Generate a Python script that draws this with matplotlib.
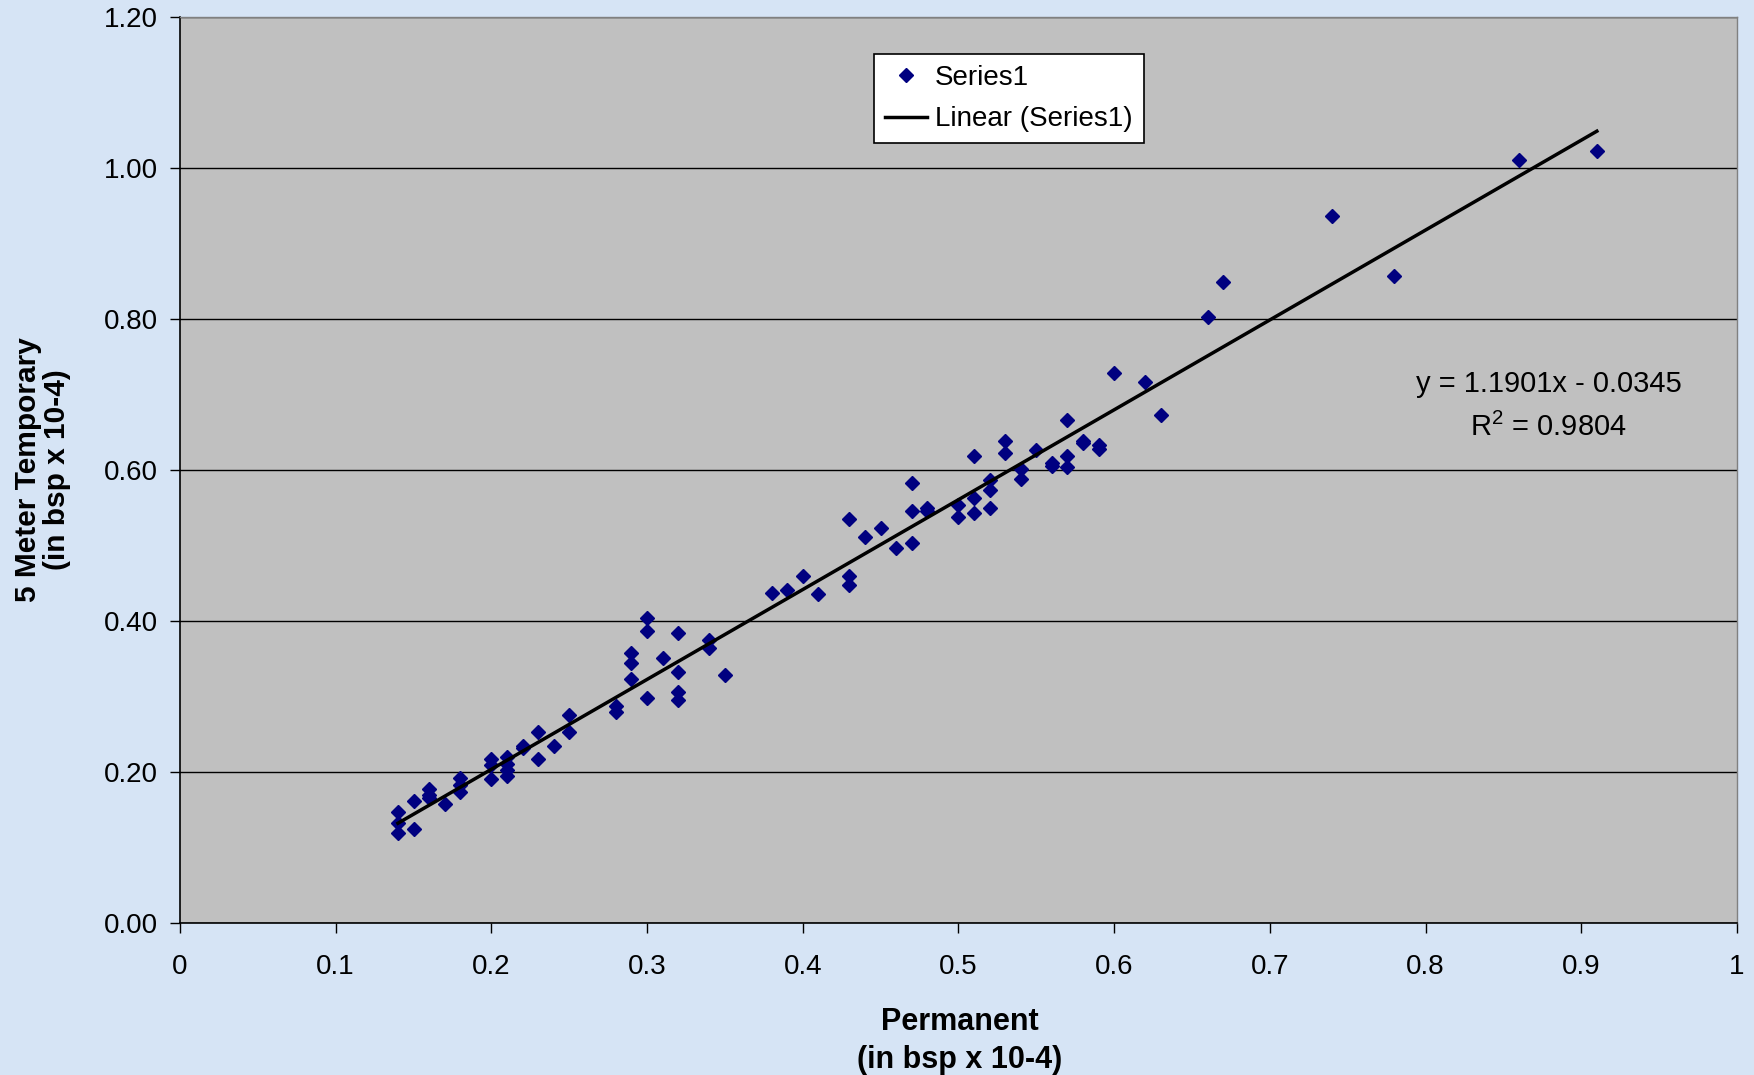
import numpy as np
import matplotlib
matplotlib.use("Agg")
import matplotlib.pyplot as plt

plt.rcParams['font.family'] = ['Liberation Sans', 'DejaVu Sans']
plt.rcParams['mathtext.fontset'] = 'custom'
plt.rcParams['mathtext.rm'] = 'Liberation Sans'

# permanent vs 5 meter temporary (in bsp x 10-4)
permanent = [0.14, 0.14, 0.14, 0.15, 0.15, 0.16, 0.16, 0.16, 0.17, 0.18, 0.18, 0.18,
             0.20, 0.20, 0.20, 0.21, 0.21, 0.21, 0.21, 0.22, 0.22, 0.23, 0.23, 0.24,
             0.25, 0.25, 0.28, 0.28, 0.29, 0.29, 0.29, 0.30, 0.30, 0.30, 0.31,
             0.32, 0.32, 0.32, 0.32, 0.34, 0.34, 0.35,
             0.38, 0.39, 0.40, 0.41, 0.43, 0.43, 0.43, 0.44, 0.45, 0.46,
             0.47, 0.47, 0.47, 0.48, 0.48, 0.50, 0.50, 0.51, 0.51, 0.51,
             0.52, 0.52, 0.52, 0.53, 0.53, 0.54, 0.54, 0.55, 0.56, 0.56,
             0.57, 0.57, 0.57, 0.58, 0.58, 0.59, 0.59, 0.60, 0.62, 0.63,
             0.66, 0.67, 0.74, 0.78, 0.86, 0.91]
temporary = [0.147, 0.132, 0.119, 0.161, 0.125, 0.177, 0.170, 0.166, 0.158, 0.192, 0.183, 0.173,
             0.217, 0.209, 0.191, 0.220, 0.211, 0.203, 0.194, 0.235, 0.232, 0.253, 0.217, 0.234,
             0.276, 0.253, 0.287, 0.280, 0.357, 0.344, 0.323, 0.404, 0.386, 0.298, 0.351,
             0.384, 0.333, 0.306, 0.295, 0.375, 0.364, 0.328,
             0.437, 0.441, 0.459, 0.436, 0.535, 0.459, 0.448, 0.511, 0.523, 0.496,
             0.583, 0.546, 0.503, 0.549, 0.546, 0.554, 0.538, 0.618, 0.563, 0.543,
             0.587, 0.573, 0.549, 0.638, 0.623, 0.601, 0.588, 0.626, 0.609, 0.605,
             0.666, 0.618, 0.604, 0.638, 0.635, 0.633, 0.627, 0.728, 0.716, 0.673,
             0.802, 0.849, 0.936, 0.857, 1.010, 1.022]

slope = 1.1901
intercept = -0.0345
r_squared = 0.9804

x_ticks = [0, 0.1, 0.2, 0.3, 0.4, 0.5, 0.6, 0.7, 0.8, 0.9, 1]
x_ticklabels = ['0', '0.1', '0.2', '0.3', '0.4', '0.5', '0.6', '0.7', '0.8', '0.9', '1']
y_ticks = [0.0, 0.2, 0.4, 0.6, 0.8, 1.0, 1.2]
y_ticklabels = ['0.00', '0.20', '0.40', '0.60', '0.80', '1.00', '1.20']

fig = plt.figure(figsize=(17.54, 10.75), dpi=100, facecolor='#D6E4F5')
ax = fig.add_axes([0.1026, 0.1414, 0.8877, 0.843])
ax.set_facecolor('#C0C0C0')

ax.plot(permanent, temporary, linestyle='none', marker='D', ms=7.5,
        color='#000080', label='Series1', zorder=3)

# trendline over the data range
xs = np.array([min(permanent), max(permanent)])
ax.plot(xs, slope * xs + intercept, color='black', lw=2.5,
        label='Linear (Series1)', zorder=4)

ax.set_xlim(0, 1)
ax.set_ylim(0, 1.2)
ax.set_xticks(x_ticks)
ax.set_xticklabels(x_ticklabels)
ax.set_yticks(y_ticks)
ax.set_yticklabels(y_ticklabels)
ax.tick_params(axis='both', labelsize=20, length=7, width=1, direction='out')
ax.tick_params(axis='x', pad=15)
ax.tick_params(axis='y', pad=9)

ax.grid(axis='y', color='black', lw=1)
ax.set_axisbelow(True)
for side in ['left', 'bottom']:
    ax.spines[side].set_color('black')
    ax.spines[side].set_linewidth(1.2)
for side in ['top', 'right']:
    ax.spines[side].set_color('#808080')
    ax.spines[side].set_linewidth(1)

eq = 'y = %.4fx - %.4f' % (slope, -intercept)
ax.text(0.879, 0.714, eq, fontsize=21, ha='center', va='center')
ax.text(0.879, 0.656, 'R$^{2}$ = %.4f' % r_squared, fontsize=21, ha='center', va='center')

leg = ax.legend(loc='upper left', bbox_to_anchor=(0.4457, 0.959), borderaxespad=0,
                fontsize=20, fancybox=False, edgecolor='black', framealpha=1,
                handlelength=1.5, handletextpad=0.3, borderpad=0.4, labelspacing=0.55)
leg.get_frame().set_linewidth(1.2)

fig.text(0.024, 0.563, '5 Meter Temporary\n(in bsp x 10-4)', rotation=90,
         ha='center', va='center', fontsize=21.5, fontweight='bold', linespacing=1.05)
fig.text(0.547, 0.032, 'Permanent\n(in bsp x 10-4)', ha='center', va='center',
         fontsize=22, fontweight='bold', linespacing=1.35)

fig.savefig('out.png', dpi=100, facecolor=fig.get_facecolor())
